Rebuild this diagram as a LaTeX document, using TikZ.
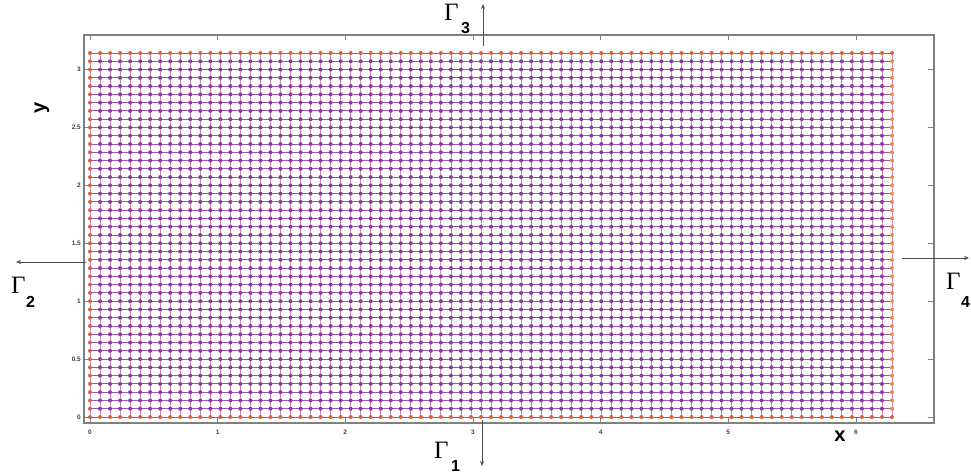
\documentclass[tikz,border=0pt]{standalone}
\usepackage{fontspec}
\usetikzlibrary{arrows.meta}
\setmainfont{Liberation Serif}
\newfontfamily\hel{Liberation Sans}
\definecolor{intdot}{HTML}{8A3C9E}
\definecolor{hline}{HTML}{9A55B5}
\definecolor{vline}{HTML}{D08AB8}
\definecolor{bdot}{HTML}{E0603C}
\definecolor{bdotr}{HTML}{E89040}
\definecolor{axgray}{HTML}{808080}
\begin{document}
\begin{tikzpicture}[x=1pt,y=-1pt,
  hl/.style={draw=hline,line width=0.9pt},
  vl/.style={draw=vline,line width=0.8pt},
  idot/.style={fill=intdot},
  bd/.style={fill=bdot},
  bdr/.style={fill=bdotr},
  axbox/.style={draw=axgray,line width=1.1pt},
  tickl/.style={draw=axgray,line width=0.6pt},
  ticklab/.style={font=\hel\bfseries\fontsize{6.5}{7}\selectfont,text=black!75,inner sep=0pt},
  axlab/.style={font=\hel\bfseries\fontsize{20}{20}\selectfont,inner sep=0pt},
  gam/.style={font=\fontsize{25}{25}\selectfont,inner sep=0pt,anchor=base west},
  gsub/.style={font=\hel\bfseries\fontsize{16}{16}\selectfont,inner sep=0pt,anchor=base west},
  bnd/.style={draw=black!70,line width=0.6pt,-{Stealth[length=5pt,width=4pt]}}]
\useasboundingbox (0,0) rectangle (971,476);
\fill[white] (0,0) rectangle (971,476);
% grid lines
\foreach \j in {0,...,44} \draw[hl] (90,{417-8.2727*\j}) -- (892,{417-8.2727*\j});
\foreach \i in {0,...,80} \draw[vl] ({90+10.025*\i},417) -- ({90+10.025*\i},53);
% interior dots
\foreach \i in {1,...,79} {
  \foreach \j in {1,...,43} {
    \fill[idot] ({90+10.025*\i},{417-8.2727*\j}) circle (2.0);
  }
}
% boundary dots
\foreach \i in {0,...,80} {
  \fill[bd] ({90+10.025*\i},417) circle (2.0);
  \fill[bd] ({90+10.025*\i},53) circle (2.0);
}
\foreach \j in {1,...,43} {
  \fill[bd] (90,{417-8.2727*\j}) circle (2.0);
  \fill[bdr] (892,{417-8.2727*\j}) circle (2.0);
}
% axes box
\draw[axbox] (84,35) rectangle (934,423);
\foreach \k in {0,...,6} {
  \draw[tickl] ({90+127.65*\k},423) -- ({90+127.65*\k},418);
  \draw[tickl] ({90+127.65*\k},35) -- ({90+127.65*\k},40);
  \node[ticklab] (xt\k) at ({90+127.65*\k},432) {\k};
}
\foreach \k/\lab in {0/0,1/0.5,2/1,3/1.5,4/2,5/2.5,6/3} {
  \draw[tickl] (84,{417-58*\k}) -- (90,{417-58*\k});
  \draw[tickl] (934,{417-58*\k}) -- (928,{417-58*\k});
  \node[ticklab,anchor=east] (yt\k) at (81,{417-58*\k}) {\lab};
}
% axis labels
\node[axlab,rotate=90] (ylab) at (42,108) {y};
\node[axlab] (xlab) at (840,436) {x};
% boundary arrows
\coordinate (a3s) at (483,46); \coordinate (a3e) at (483,4);
\coordinate (a1s) at (482,420); \coordinate (a1e) at (482,466);
\coordinate (a2s) at (86,262); \coordinate (a2e) at (16,262);
\coordinate (a4s) at (902,258); \coordinate (a4e) at (969,258);
\draw[bnd] (a3s) -- (a3e);
\draw[bnd] (a1s) -- (a1e);
\draw[bnd] (a2s) -- (a2e);
\draw[bnd] (a4s) -- (a4e);
\node[gam] (g3) at (444,21) {Γ}; \node[gsub] (g3s) at (461,34) {3};
\node[gam] (g1) at (434,458) {Γ}; \node[gsub] (g1s) at (451,471) {1};
\node[gam] (g2) at (11,293) {Γ}; \node[gsub] (g2s) at (26,307) {2};
\node[gam] (g4) at (946,289) {Γ}; \node[gsub] (g4s) at (961,307) {4};
\end{tikzpicture}
\end{document}
